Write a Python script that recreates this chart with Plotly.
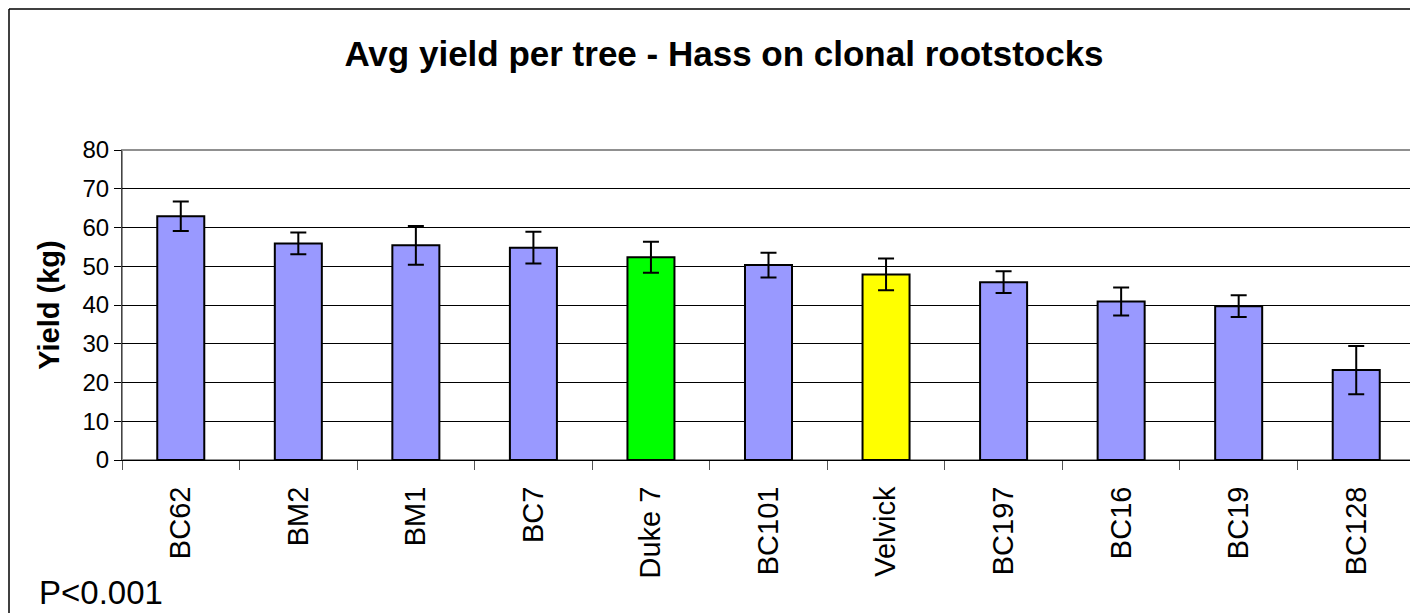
import plotly.graph_objects as go

categories = ["BC62", "BM2", "BM1", "BC7", "Duke 7", "BC101", "Velvick", "BC197", "BC16", "BC19", "BC128"]
yield_kg = [62.9, 55.9, 55.4, 54.8, 52.3, 50.3, 47.9, 45.9, 40.9, 39.7, 23.2]
err_kg = [3.8, 2.8, 5.0, 4.1, 4.0, 3.2, 4.1, 2.8, 3.6, 2.8, 6.2]
bar_colors = ["#9999FF", "#9999FF", "#9999FF", "#9999FF", "#00FF00", "#9999FF",
              "#FFFF00", "#9999FF", "#9999FF", "#9999FF", "#9999FF"]
y_ticks = [0, 10, 20, 30, 40, 50, 60, 70, 80]

FONT = "Liberation Sans, Arial, sans-serif"

W, H = 1410, 605
L, R, T, B = 114, 3, 142, 153
PW = W - L - R
PH = H - T - B

fig = go.Figure()
fig.add_trace(go.Bar(
    x=categories, y=yield_kg,
    marker=dict(color=bar_colors, line=dict(color="black", width=2)),
    error_y=dict(type="data", array=err_kg, visible=True, color="black", thickness=2, width=8),
    width=0.4,
))

fig.update_layout(
    width=W, height=H,
    margin=dict(l=L, r=R, t=T, b=B),
    paper_bgcolor="white", plot_bgcolor="white",
    showlegend=False,
    font=dict(family=FONT, color="black"),
    title=dict(text="<b>Avg yield per tree - Hass on clonal rootstocks</b>",
               x=(724 - 8) / W, xanchor="center", y=1 - 46 / H, yanchor="middle",
               font=dict(size=35, family=FONT, color="black")),
    xaxis=dict(type="category", tickangle=-90, tickfont=dict(size=29),
               showline=True, linecolor="black", linewidth=1,
               ticks="outside", tickson="boundaries", ticklen=9, tickcolor="#555555",
               ticklabelstandoff=14,
               showgrid=False),
    yaxis=dict(range=[0, 80], tickvals=y_ticks, tickfont=dict(size=24),
               showline=True, linecolor="#444444", linewidth=1,
               ticks="outside", ticklen=7, tickcolor="black",
               showgrid=True, gridcolor="black", gridwidth=1, zeroline=False,
               title=dict(text="<b>Yield (kg)</b>", font=dict(size=29), standoff=14)),
    shapes=[
        dict(type="rect", xref="x domain", yref="y domain", x0=0, x1=1, y0=0, y1=1,
             line=dict(color="#909090", width=2), layer="below"),
        dict(type="line", xref="paper", yref="paper",
             x0=-(L - 1) / PW, x1=-(L - 1) / PW, y0=-B / PH - 0.1, y1=1 + (T - 1) / PH,
             line=dict(color="black", width=1.5)),
        dict(type="line", xref="paper", yref="paper",
             x0=-(L - 1) / PW, x1=1 + R / PW, y0=1 + (T - 1) / PH, y1=1 + (T - 1) / PH,
             line=dict(color="black", width=1.5)),
    ],
    annotations=[
        dict(text="P<0.001", xref="paper", yref="paper",
             x=(37 - 122) / PW, y=-(592 - 460) / PH,
             xanchor="left", yanchor="middle", showarrow=False,
             font=dict(size=33, family=FONT, color="black")),
    ],
)

fig.write_html("out.html")
